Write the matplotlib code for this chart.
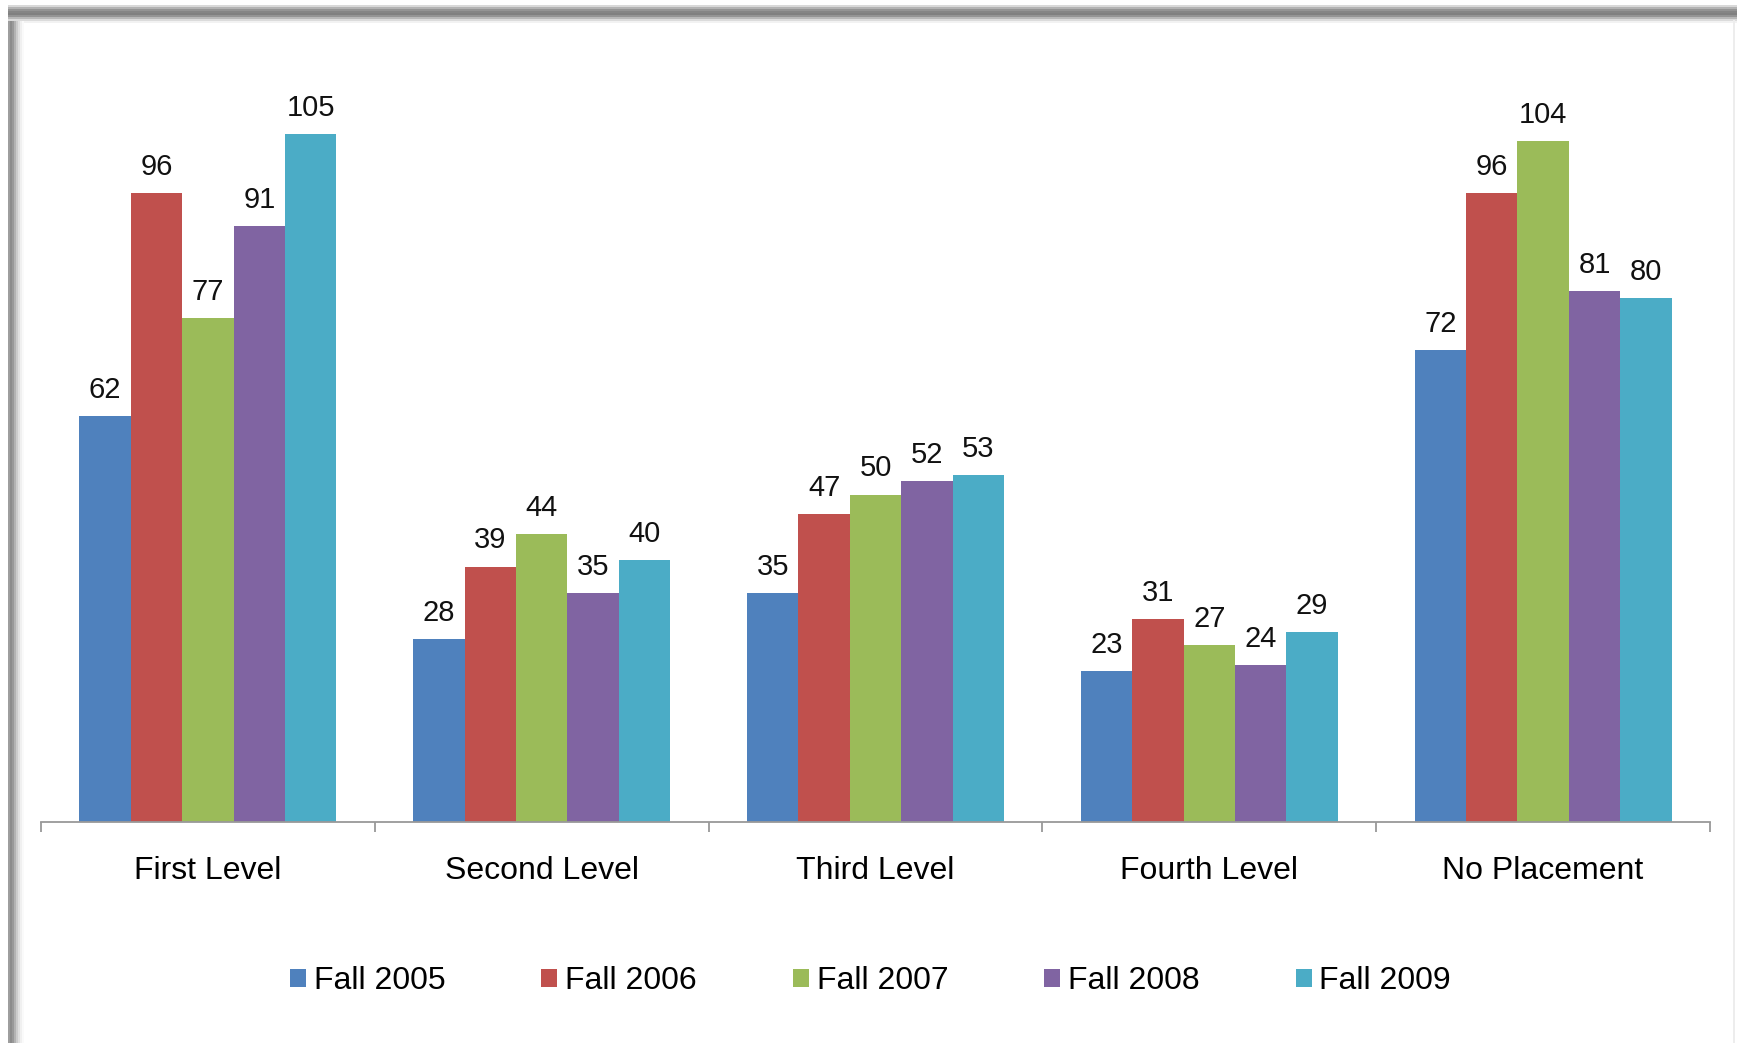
import matplotlib.pyplot as plt
from matplotlib import font_manager
import numpy as np

categories = ['First Level', 'Second Level', 'Third Level', 'Fourth Level', 'No Placement']
series_names = ['Fall 2005', 'Fall 2006', 'Fall 2007', 'Fall 2008', 'Fall 2009']
fall_2005 = [62, 28, 35, 23, 72]
fall_2006 = [96, 39, 47, 31, 96]
fall_2007 = [77, 44, 50, 27, 104]
fall_2008 = [91, 35, 52, 24, 81]
fall_2009 = [105, 40, 53, 29, 80]
colors = ['#4F81BD', '#C0504D', '#9BBB59', '#8064A2', '#4BACC6']

series = [fall_2005, fall_2006, fall_2007, fall_2008, fall_2009]

installed = {f.name for f in font_manager.fontManager.ttflist}
narrow = 'Liberation Sans Narrow' if 'Liberation Sans Narrow' in installed else 'Liberation Sans'
plt.rcParams['font.family'] = ['Liberation Sans', 'DejaVu Sans']

W, H = 1741, 1043
fig = plt.figure(figsize=(W / 100, H / 100), dpi=100)

# background frame with shadow
bg = fig.add_axes([0, 0, 1, 1], zorder=-1)
bg.set_xlim(0, W)
bg.set_ylim(H, 0)
bg.axis('off')
top = [(5, 0.85), (7, 0.7), (9, 0.58), (11, 0.52), (13, 0.5), (15, 0.58), (17, 0.72), (19, 0.86), (21, 0.95)]
for y, g in top:
    bg.fill_between([8, W - 4], y, y + 2, color=str(g), lw=0)
left = [(8, 0.62), (10, 0.55), (12, 0.6), (14, 0.7), (16, 0.8), (18, 0.88), (20, 0.94), (22, 0.98)]
for x, g in left:
    bg.fill_betweenx([top[-1][0], H], x, x + 2, color=str(g), lw=0)
bg.fill_betweenx([20, H], W - 8, W - 6, color='0.93', lw=0)

bottom_px, top_px = 822, 60
ax = fig.add_axes([41 / W, 1 - bottom_px / H, (1710 - 41) / W, (bottom_px - top_px) / H])
ax.set_xlim(-0.5, 4.5)
ax.set_ylim(0, (bottom_px - top_px) / 6.55)

x = np.arange(len(categories))
width = 0.154
bars = []
for i, (vals, name, c) in enumerate(zip(series, series_names, colors)):
    pos = x + (i - 2) * width
    b = ax.bar(pos, vals, width, color=c, label=name, linewidth=0)
    bars.append(b)
    for px, v in zip(pos, vals):
        ax.annotate(str(v), (px, v), xytext=(0, 13), textcoords='offset points',
                    ha='center', va='baseline', fontsize=21, family=narrow, color='#111111')

for s in ['top', 'left', 'right']:
    ax.spines[s].set_visible(False)
ax.spines['bottom'].set_color('#999999')
ax.spines['bottom'].set_linewidth(1.3)
ax.set_yticks([])
ax.set_xticks(np.arange(-0.5, 5, 1))
ax.set_xticklabels([])
ax.tick_params(axis='x', length=7, width=1.3, color='#999999', direction='out')
for xi, cat in zip(x, categories):
    ax.annotate(cat, (xi, 0), xycoords=('data', 'axes fraction'), xytext=(0, -41),
                textcoords='offset points', ha='center', va='baseline', fontsize=23, color='black')

fig.legend(handles=bars, labels=series_names, loc='center', bbox_to_anchor=(0.5, 1 - 981 / H),
           ncol=5, frameon=False, fontsize=23, handlelength=0.5, handleheight=0.5,
           handletextpad=0.25, columnspacing=3.0)

fig.savefig('out.png', dpi=100)
